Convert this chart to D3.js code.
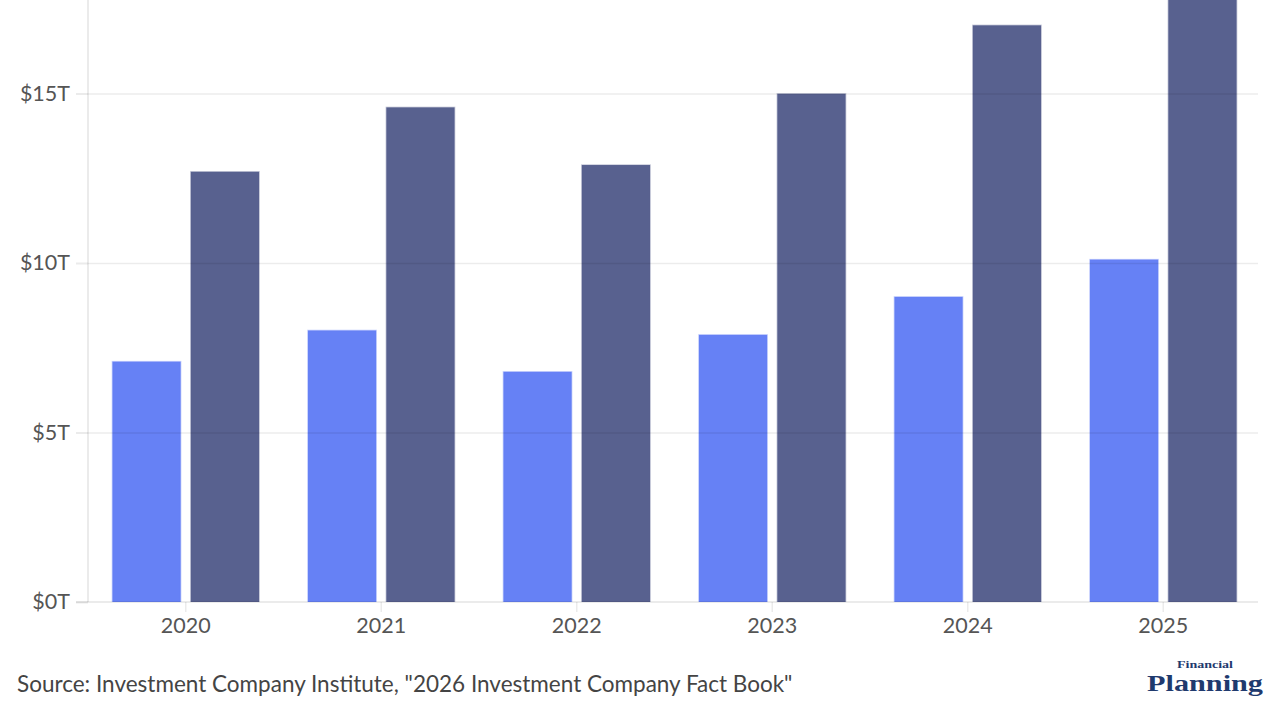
<!DOCTYPE html>
<html>
<head>
<meta charset="utf-8">
<script src="https://cdn.jsdelivr.net/npm/d3@7"></script>
<style>
html,body{margin:0;padding:0;background:#fff;}
svg{display:block;}
</style>
</head>
<body>
<svg id="chart" width="1280" height="720"></svg>
<script>
const years = ["2020","2021","2022","2023","2024","2025"];
const seriesNames = ["Series A","Series B"];
const seriesA = [7.09, 8.01, 6.79, 7.88, 9.0, 10.1];
const seriesB = [12.69, 14.59, 12.89, 14.99, 17.01, 19.0];
const yTicks = [0, 5, 10, 15];
const sourceText = 'Source: Investment Company Institute, "2026 Investment Company Fact Book"';

const colors = ["#6681f5", "#58618f"];
const svg = d3.select("#chart");
const left = 88, right = 1261, bottom = 602;

const x = d3.scaleBand().domain(years).range([left, right]).paddingInner(0.25).paddingOuter(0.125);
const xs = d3.scaleBand().domain(seriesNames).range([0, x.bandwidth()]).paddingInner(0.13);
const y = d3.scaleLinear().domain([0, 15]).range([bottom, 93.5]);

const data = years.map((yr, i) => ({year: yr, vals: [seriesA[i], seriesB[i]]}));

svg.append("defs").append("clipPath").attr("id","clip")
  .append("rect").attr("x",0).attr("y",0).attr("width",1280).attr("height",bottom);

// bars
const g = svg.append("g").attr("clip-path","url(#clip)");
g.selectAll("g.grp").data(data).join("g").attr("class","grp")
  .attr("transform", d => `translate(${x(d.year)},0)`)
  .selectAll("rect").data(d => d.vals.map((v,j)=>({name: seriesNames[j], v, j})))
  .join("rect")
  .attr("x", d => xs(d.name))
  .attr("width", xs.bandwidth())
  .attr("y", d => y(d.v))
  .attr("height", d => bottom - y(d.v))
  .attr("fill", d => colors[d.j])
  .attr("stroke", d => colors[d.j])
  .attr("stroke-opacity", 0.35)
  .attr("stroke-width", 1.5);

// gridlines (over bars, translucent)
const yAxis = d3.axisLeft(y).tickValues(yTicks).tickSize(12).tickPadding(6).tickFormat(d => "$" + d + "T");
const ya = svg.append("g").attr("transform", `translate(${left},0)`).call(yAxis);
ya.select(".domain").remove();
ya.selectAll(".tick line").attr("stroke","#000").attr("stroke-opacity",0.08).attr("stroke-width",2);
ya.selectAll(".tick").filter(d => d !== 0).append("line")
  .attr("x1", 0).attr("x2", 1258 - left)
  .attr("stroke","#000").attr("stroke-opacity",0.075).attr("stroke-width",1.5);
ya.selectAll(".tick text").attr("font-family","Lato").attr("font-size",21.5).attr("fill","#555").attr("x",-18);

// y axis line
svg.append("line").attr("x1",left).attr("x2",left).attr("y1",0).attr("y2",bottom)
  .attr("stroke","#000").attr("stroke-opacity",0.08).attr("stroke-width",2);

// x axis
const xAxis = d3.axisBottom(x).tickSize(10).tickPadding(6);
const xa = svg.append("g").attr("transform", `translate(0,${bottom})`).call(xAxis);
xa.select(".domain").remove();
xa.selectAll(".tick line").attr("stroke","#000").attr("stroke-opacity",0.08).attr("stroke-width",1.5);
xa.selectAll(".tick text").attr("font-family","Lato").attr("font-size",21.5).attr("fill","#555");
svg.append("line").attr("x1",76).attr("x2",1258).attr("y1",bottom).attr("y2",bottom)
  .attr("stroke","#000").attr("stroke-opacity",0.08).attr("stroke-width",2);

// source
svg.append("text").attr("x",17).attr("y",692).attr("font-family","Lato").attr("font-size",22.5)
  .attr("fill","#444").text(sourceText);

// logo
svg.append("text").attr("x",1177).attr("y",668).attr("font-family","Liberation Serif").attr("font-weight","bold")
  .attr("font-size",11).attr("fill","#1f3a6e").attr("textLength",56).attr("lengthAdjust","spacingAndGlyphs").text("Financial");
svg.append("text").attr("x",1147).attr("y",691).attr("font-family","Liberation Serif").attr("font-weight","bold")
  .attr("font-size",24).attr("fill","#1f3a6e").attr("textLength",116).attr("lengthAdjust","spacingAndGlyphs").text("Planning");
</script>
</body>
</html>
